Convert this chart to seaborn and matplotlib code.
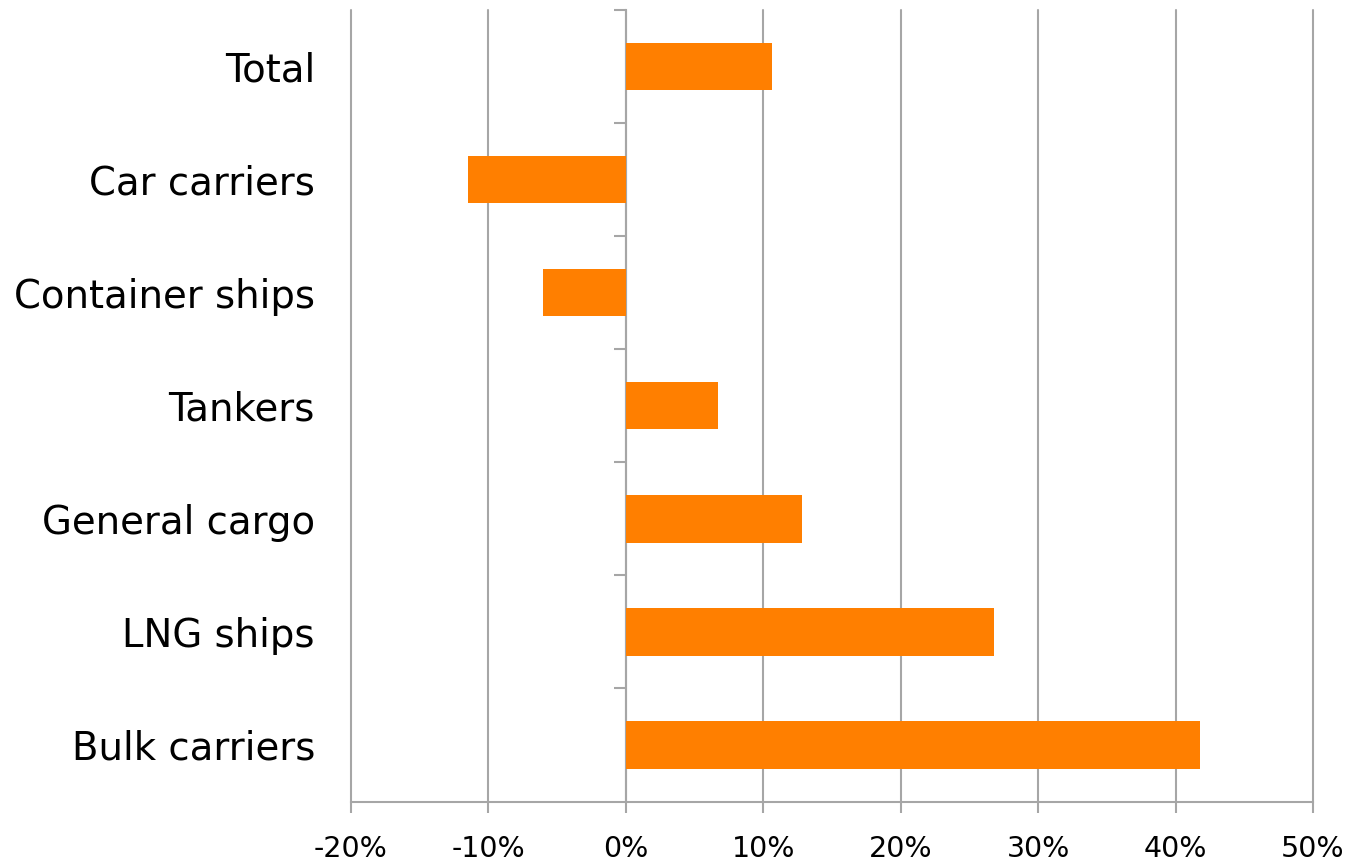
import pandas as pd
import seaborn as sns
import matplotlib.pyplot as plt
from matplotlib.ticker import FuncFormatter

categories = ["Total", "Car carriers", "Container ships", "Tankers",
              "General cargo", "LNG ships", "Bulk carriers"]
change_pct = [10.6, -11.5, -6.0, 6.7, 12.8, 26.8, 41.8]
x_ticks = [-20, -10, 0, 10, 20, 30, 40, 50]

df = pd.DataFrame({"Ship type": categories, "Change": change_pct})

sns.set_style("white")
plt.rcParams["font.family"] = ["DejaVu Sans"]

grey = "#a6a6a6"
fig = plt.figure(figsize=(13.51, 8.61), dpi=100)
ax = fig.add_axes([351 / 1351, 1 - 801.5 / 861, 962 / 1351, 791.5 / 861])

sns.barplot(data=df, x="Change", y="Ship type", color="#ff7f00",
            saturation=1, width=0.42, linewidth=0, ax=ax, zorder=3)

ax.set_xlim(-20, 50)
ax.set_xticks(x_ticks)
ax.xaxis.set_major_formatter(FuncFormatter(lambda v, p: f"{v:.0f}%"))
ax.grid(axis="x", color=grey, linewidth=1.5, zorder=0)
for gl in ax.get_xgridlines():
    gl.set_clip_on(False)
ax.set_axisbelow(True)
ax.set_xlabel("")
ax.set_ylabel("")

for side in ["top", "right", "left"]:
    ax.spines[side].set_visible(False)
ax.spines["bottom"].set_color(grey)
ax.spines["bottom"].set_linewidth(1.5)

ax.tick_params(axis="x", colors=grey, labelcolor="black", length=8,
               width=1.5, labelsize=20.5, pad=16, bottom=True)
ax.tick_params(axis="y", length=0, labelsize=27.8, pad=26, labelcolor="black")

# category axis sits on the 0% line, with ticks between the categories
zero_pos = (0 - (-20)) / 70
sec = ax.secondary_yaxis(zero_pos)
sec.set_yticks([i - 0.5 for i in range(len(categories))])
sec.set_yticklabels([])
sec.spines["left"].set_color(grey)
sec.spines["left"].set_linewidth(1.5)
sec.tick_params(axis="y", colors=grey, length=9, width=1.5)

fig.savefig("out.png", dpi=100)
